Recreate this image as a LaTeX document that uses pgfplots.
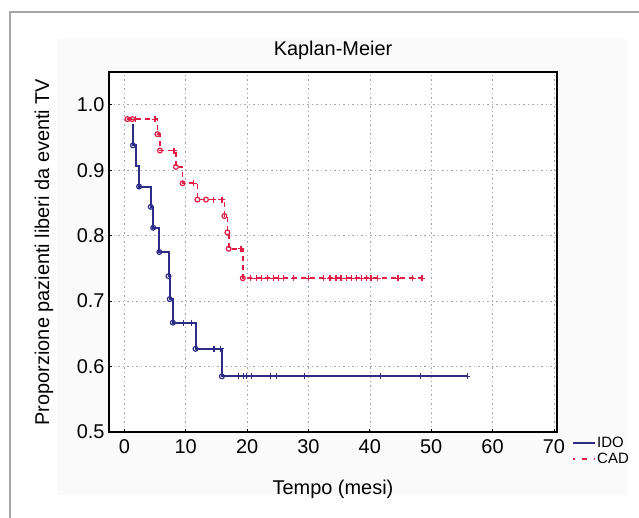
\documentclass[border=0pt]{standalone}
\usepackage{fontspec}
\setmainfont{Liberation Sans}
\usepackage{pgfplots}
\pgfplotsset{compat=1.18}
\definecolor{idoblue}{RGB}{45,45,135}
\definecolor{cadred}{RGB}{226,28,68}
\begin{document}
\begin{tikzpicture}[x=1bp,y=1bp]
\useasboundingbox (0,0) rectangle (639,518);
\fill[black!2] (57,23) rectangle (627,479);
\draw[black!35, line width=1.5bp] (10,-2) -- (10,506) -- (641,506);
\begin{axis}[
  at={(109bp,86bp)}, anchor=south west,
  width=448bp, height=360bp, scale only axis,
  xmin=-2.5, xmax=70.5, ymin=0.5, ymax=1.05,
  xtick={0,10,...,70}, ytick={0.5,0.6,0.7,0.8,0.9,1.0},
  xtick pos=bottom, ytick pos=left,
  yticklabel style={/pgf/number format/fixed, /pgf/number format/precision=1, /pgf/number format/fixed zerofill},
  /pgf/number format/assume math mode=true,
  tick label style={font=\fontsize{20}{24}\selectfont},
  xticklabel style={yshift=-4bp},
  yticklabel style={xshift=-1bp},
  label style={font=\fontsize{20}{24}\selectfont},
  title style={font=\fontsize{20}{24}\selectfont, at={(axis description cs:0.5,1.028)}, anchor=base},
  title={Kaplan-Meier},
  xlabel={Tempo (mesi)},
  ylabel={Proporzione pazienti liberi da eventi TV},
  xlabel style={at={(axis description cs:0.5,-0.158)}, anchor=center},
  ylabel style={at={(axis description cs:-0.145,0.5)}, anchor=center},
  grid=major,
  major grid style={black!35, line width=0.6bp, dash pattern=on 1.5bp off 3bp},
  axis line style={line width=1.8bp},
  tick style={black, line width=0.8bp}, tick align=inside, major tick length=3bp,
  axis background/.style={fill=white},
  legend style={at={(axis description cs:1.034,-0.014)}, anchor=north west, draw=none, fill=none,
    font=\fontsize{15}{15}\selectfont, row sep=4bp, inner sep=0pt,
    nodes={inner xsep=1bp, inner ysep=0bp, text height=10.5bp, text depth=1.5bp}},
  legend cell align=left,
  legend image code/.code={\draw[#1] (0bp,0bp) -- (22bp,0bp);},
]
\addlegendimage{idoblue, line width=1.8bp}
\addlegendentry{IDO}
\addlegendimage{cadred, line width=1.6bp, dash pattern=on 2bp off 7bp on 3bp off 0bp}
\addlegendentry{CAD}

% IDO step curve
\addplot[idoblue, line width=2bp, const plot, forget plot] coordinates {
(1.2,0.969) (1.4,0.938) (1.9,0.906) (2.4,0.875) (4.3,0.844) (4.7,0.812)
(5.7,0.775) (7.2,0.738) (7.4,0.703) (7.9,0.667) (11.6,0.627) (15.9,0.585) (55.9,0.585)};
% IDO events
\addplot[idoblue, only marks, mark=o, mark size=2.4bp, line width=1.2bp, forget plot] coordinates {
(1.4,0.938) (2.4,0.875) (4.3,0.844) (4.7,0.812) (5.7,0.775) (7.2,0.738)
(7.4,0.703) (7.9,0.667) (11.6,0.627) (15.9,0.585)};
% IDO censored
\addplot[idoblue, only marks, mark=+, mark size=3bp, line width=1.2bp, forget plot] coordinates {
(9.7,0.667) (11.0,0.667) (14.6,0.627) (15.7,0.627)
(18.6,0.585) (19.4,0.585) (19.9,0.585) (20.7,0.585) (23.8,0.585) (24.8,0.585)
(29.3,0.585) (41.7,0.585) (48.3,0.585) (55.9,0.585)};

% CAD step curve
\addplot[cadred, line width=1.7bp, const plot, dash pattern=on 5bp off 4bp, forget plot] coordinates {
(0.5,0.978) (5.4,0.955) (5.8,0.930) (8.4,0.905) (9.5,0.880) (11.9,0.855)
(16.3,0.830) (16.8,0.805) (17.0,0.780) (19.3,0.735) (48.5,0.735)};
% CAD events
\addplot[cadred, only marks, mark=o, mark size=2.4bp, line width=1.2bp, forget plot] coordinates {
(0.5,0.978) (1.3,0.978) (5.4,0.955) (5.8,0.930) (8.4,0.905) (9.5,0.880) (11.9,0.855)
(13.3,0.855) (16.3,0.830) (16.8,0.805) (17.0,0.780) (19.3,0.735)};
% CAD censored
\addplot[cadred, only marks, mark=+, mark size=3bp, line width=1.2bp, forget plot] coordinates {
(1.8,0.978) (5.0,0.978) (8.1,0.930) (11.3,0.880) (14.5,0.855) (15.9,0.855) (19.0,0.780)
(20.5,0.735) (21.5,0.735) (22.4,0.735) (23.3,0.735) (24.3,0.735) (25.1,0.735) (25.9,0.735)
(27.6,0.735) (30.0,0.735) (32.4,0.735) (33.5,0.735) (34.5,0.735) (35.3,0.735) (36.2,0.735)
(37.0,0.735) (37.8,0.735) (38.6,0.735) (39.4,0.735) (40.2,0.735) (41.3,0.735) (44.6,0.735)
(47.0,0.735) (48.5,0.735)};
\end{axis}
\end{tikzpicture}
\end{document}
